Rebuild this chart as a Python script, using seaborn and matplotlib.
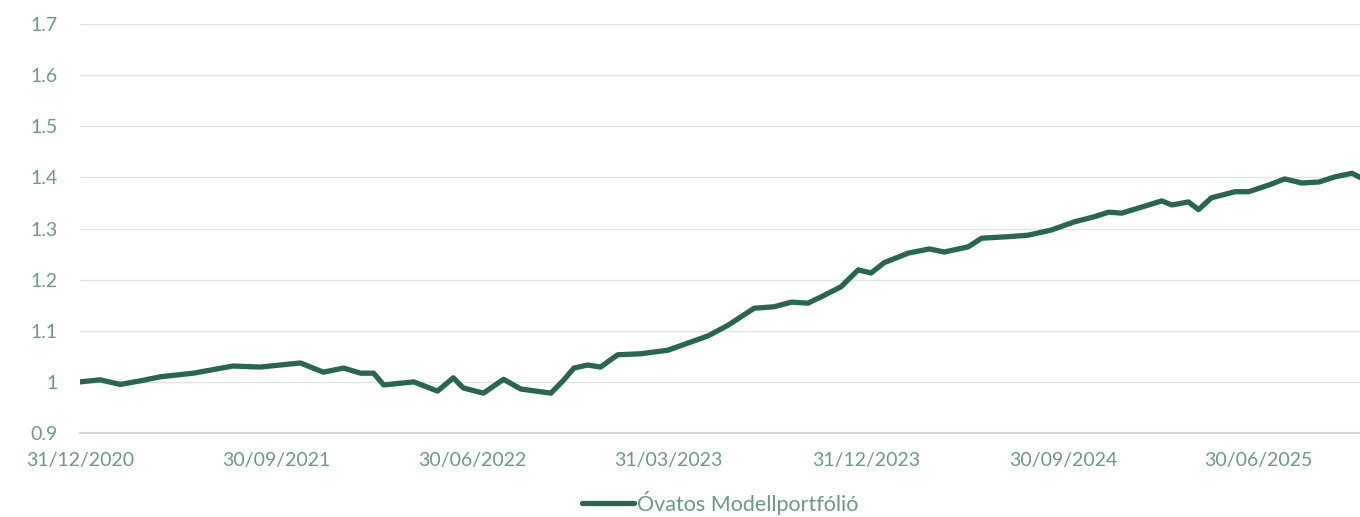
import pandas as pd
import matplotlib.pyplot as plt
import matplotlib.dates as mdates
from matplotlib.ticker import FuncFormatter, MultipleLocator
import seaborn as sns

# values
dates = [
    "2020-12-31", "2021-01-28", "2021-02-25", "2021-03-25", "2021-04-22",
    "2021-06-07", "2021-08-01", "2021-09-08", "2021-11-03", "2021-12-05",
    "2022-01-02", "2022-01-26", "2022-02-13", "2022-02-27", "2022-04-10",
    "2022-05-13", "2022-06-04", "2022-06-18", "2022-07-16", "2022-08-13",
    "2022-09-06", "2022-10-18", "2022-11-05", "2022-11-19", "2022-12-08",
    "2022-12-26", "2023-01-19", "2023-02-20", "2023-03-30", "2023-05-01",
    "2023-05-25", "2023-06-22", "2023-07-28", "2023-08-25", "2023-09-18",
    "2023-10-11", "2023-10-29", "2023-11-26", "2023-12-20", "2024-01-07",
    "2024-01-25", "2024-02-28", "2024-03-28", "2024-04-18", "2024-05-21",
    "2024-06-09", "2024-07-16", "2024-08-13", "2024-09-14", "2024-10-16",
    "2024-11-13", "2024-12-03", "2024-12-21", "2025-01-18", "2025-02-15",
    "2025-03-01", "2025-03-24", "2025-04-07", "2025-04-25", "2025-05-28",
    "2025-06-16", "2025-07-14", "2025-08-05", "2025-08-29", "2025-09-22",
    "2025-10-14", "2025-11-07", "2025-11-18",
]
values = [
    1.000, 1.004, 0.995, 1.002, 1.010,
    1.017, 1.031, 1.029, 1.037, 1.019,
    1.027, 1.017, 1.017, 0.994, 1.000,
    0.982, 1.008, 0.988, 0.978, 1.005,
    0.986, 0.978, 1.004, 1.027, 1.033,
    1.029, 1.053, 1.055, 1.062, 1.078,
    1.090, 1.111, 1.144, 1.147, 1.156,
    1.154, 1.166, 1.186, 1.219, 1.213,
    1.233, 1.252, 1.260, 1.254, 1.264,
    1.281, 1.284, 1.287, 1.297, 1.313,
    1.323, 1.332, 1.330, 1.342, 1.354,
    1.346, 1.352, 1.337, 1.360, 1.372,
    1.372, 1.385, 1.397, 1.389, 1.391,
    1.401, 1.408, 1.400,
]
tick_dates = ["2020-12-31", "2021-09-30", "2022-06-30", "2023-03-31",
              "2023-12-31", "2024-09-30", "2025-06-30"]
series_name = "Óvatos Modellportfólió"

df = pd.DataFrame({"Date": pd.to_datetime(dates), "Value": values,
                   "Series": series_name})

line_color = "#276750"
text_color = "#6b9a87"

sns.set_style("white")
plt.rcParams["font.family"] = ["Lato", "DejaVu Sans"]

fig = plt.figure(figsize=(13.6, 5.17), dpi=100)
ax = fig.add_axes([80 / 1360, 84 / 517, 1280 / 1360, 409 / 517])

sns.lineplot(data=df, x="Date", y="Value", hue="Series",
             palette=[line_color], linewidth=3.8, ax=ax)

ax.set_ylim(0.9, 1.7)
ax.set_xlim(pd.Timestamp(dates[0]), pd.Timestamp(dates[-1]))
ax.yaxis.set_major_locator(MultipleLocator(0.1))
ax.yaxis.set_major_formatter(FuncFormatter(lambda v, p: f"{v:g}" if abs(v - 1) > 1e-9 else "1"))
ax.set_xticks(pd.to_datetime(tick_dates))
ax.xaxis.set_major_formatter(mdates.DateFormatter("%d/%m/%Y"))

ax.grid(axis="y", color="#dde6e2", linewidth=1)
ax.grid(axis="x", visible=False)
for s in ["top", "right", "left"]:
    ax.spines[s].set_visible(False)
ax.spines["bottom"].set_color("#d9d9d9")
ax.spines["bottom"].set_linewidth(1.5)

ax.tick_params(axis="x", colors="#d9d9d9", length=6, width=1.5, pad=8,
               labelcolor=text_color, labelsize=14)
ax.tick_params(axis="y", length=0, pad=16, labelcolor=text_color, labelsize=14)
ax.set_xlabel("")
ax.set_ylabel("")

leg = ax.legend(loc="center", bbox_to_anchor=(0.5, -0.17), frameon=False,
                fontsize=15.5, handlelength=2.4, handletextpad=0.15,
                borderpad=0.1)
for t in leg.get_texts():
    t.set_color(text_color)

fig.savefig("out.png", dpi=100)
